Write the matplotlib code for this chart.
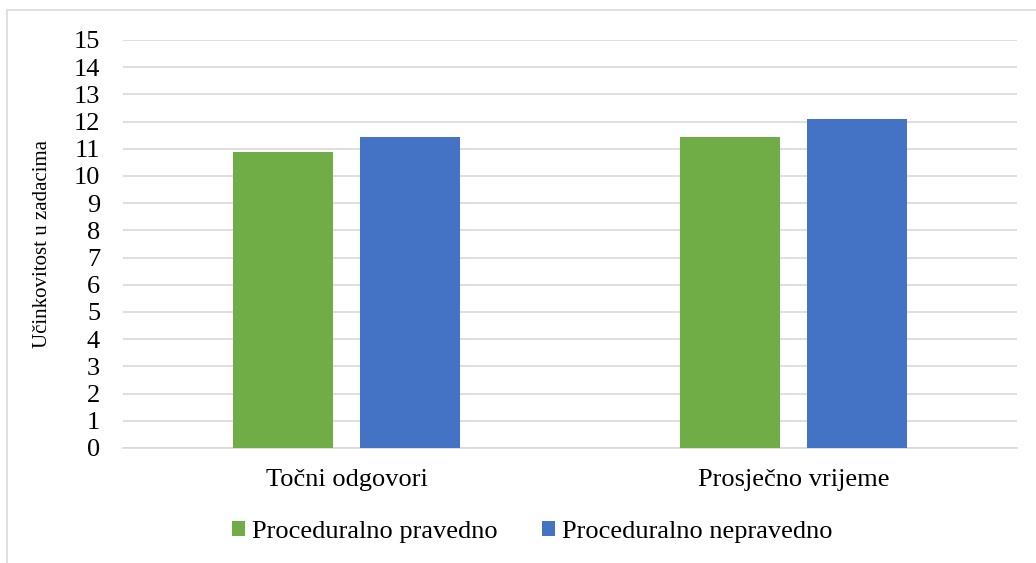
import numpy as np
import matplotlib.pyplot as plt
from matplotlib.patches import Rectangle

kategorije = ["Točni odgovori", "Prosječno vrijeme"]
pravedno = [10.88, 11.42]
nepravedno = [11.42, 12.08]
serije = ["Proceduralno pravedno", "Proceduralno nepravedno"]

plt.rcParams['font.family'] = ['Liberation Serif', 'DejaVu Serif']

fig = plt.figure(figsize=(10.36, 5.63), dpi=100)
ax = fig.add_axes([123 / 1036, 115 / 563, (1017 - 123) / 1036, 408 / 563])

# okvir grafikona (vidljiv samo lijevo i gore)
fig.patches.append(Rectangle((7 / 1036, -0.1), 1.2, (563 - 10) / 563 + 0.1,
                             transform=fig.transFigure, fill=False,
                             edgecolor='#D9D9D9', linewidth=1.2))

x = np.arange(len(kategorije))
sirina = 0.224
pomak = 0.142
ax.bar(x - pomak, pravedno, sirina, color='#70AD47', label=serije[0], zorder=3)
ax.bar(x + pomak, nepravedno, sirina, color='#4472C4', label=serije[1], zorder=3)

ax.set_xlim(-0.5, 1.5)
ax.set_ylim(0, 15)
ax.set_yticks(range(0, 16))
ax.yaxis.grid(True, color='#D9D9D9', linewidth=1.2, zorder=0)
ax.set_axisbelow(True)
for s in ['top', 'right', 'left']:
    ax.spines[s].set_visible(False)
ax.spines['bottom'].set_color('#D9D9D9')
ax.spines['bottom'].set_linewidth(1.2)
ax.tick_params(axis='both', length=0, labelsize=19)
ax.tick_params(axis='y', pad=16.5)
ax.tick_params(axis='x', pad=15)
ax.set_xticks(x)
ax.set_xticklabels(kategorije)
ax.set_ylabel("Učinkovitost u zadacima", fontsize=15)
ax.yaxis.set_label_coords(-0.079, 0.5)

fig.legend(loc='center', bbox_to_anchor=(532 / 1036, 31 / 563), ncol=2,
           frameon=False, fontsize=19, handlelength=0.5, handleheight=0.5,
           handletextpad=0.25, columnspacing=1.7)

fig.savefig("out.png", dpi=100)
